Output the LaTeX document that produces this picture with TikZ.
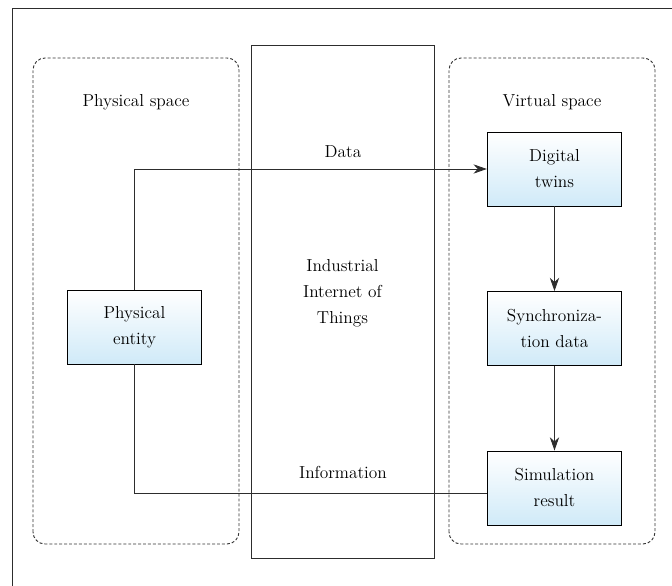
\documentclass[tikz,border=0pt]{standalone}
\usetikzlibrary{arrows.meta,positioning}
\definecolor{boxblue}{RGB}{208,234,248}
\definecolor{linegray}{RGB}{45,45,45}

\begin{document}
\begin{tikzpicture}[x=0.75pt, y=0.75pt, >={Stealth[length=10pt,width=7pt]},
    font=\fontsize{13}{19.5}\selectfont, node distance=63.5pt,
    block/.style={draw, line width=0.6pt, top color=white, bottom color=boxblue,
      minimum width=101pt, minimum height=55.5pt, align=center, inner sep=0pt},
    space/.style={draw=black!80, line width=0.7pt, dash pattern=on 2.2pt off 1.5pt, rounded corners=9pt},
    link/.style={draw=linegray, line width=0.6pt}]
  \useasboundingbox (0,0) rectangle (672,586);
  % frame and areas
  \draw[linegray, line width=0.7pt] (12.5,0) -- (12.5,578) -- (672,578);
  \draw[linegray, line width=0.7pt] (251,28) rectangle (434,541);
  \draw[space] (33,42) rectangle (239,528);
  \draw[space] (449,42) rectangle (655,528);
  \node (physlbl) at (136,484) {Physical space};
  \node (virtlbl) at (552,484) {Virtual space};
  \node[align=center] (iiot) at (342.5,293) {Industrial\\Internet of\\Things};
  % blocks
  \node[block] (entity) at (134.5,259) {Physical\\entity};
  \node[block] (twins)  at (554.5,417) {Digital\\twins};
  \node[block] (sync)   [below=of twins] {Synchroniza-\\tion data};
  \node[block] (result) [below=of sync] {Simulation\\result};
  % connectors
  \draw[link, ->] (entity.north) |- (twins.west);
  \draw[link] (entity.south) |- ([yshift=-4pt]result.west);
  \draw[link, ->] (twins) -- (sync);
  \draw[link, ->] (sync) -- (result);
  \node (datalbl) at (343,434) {Data};
  \node (infolbl) at (343,114) {Information};
\end{tikzpicture}
\end{document}
